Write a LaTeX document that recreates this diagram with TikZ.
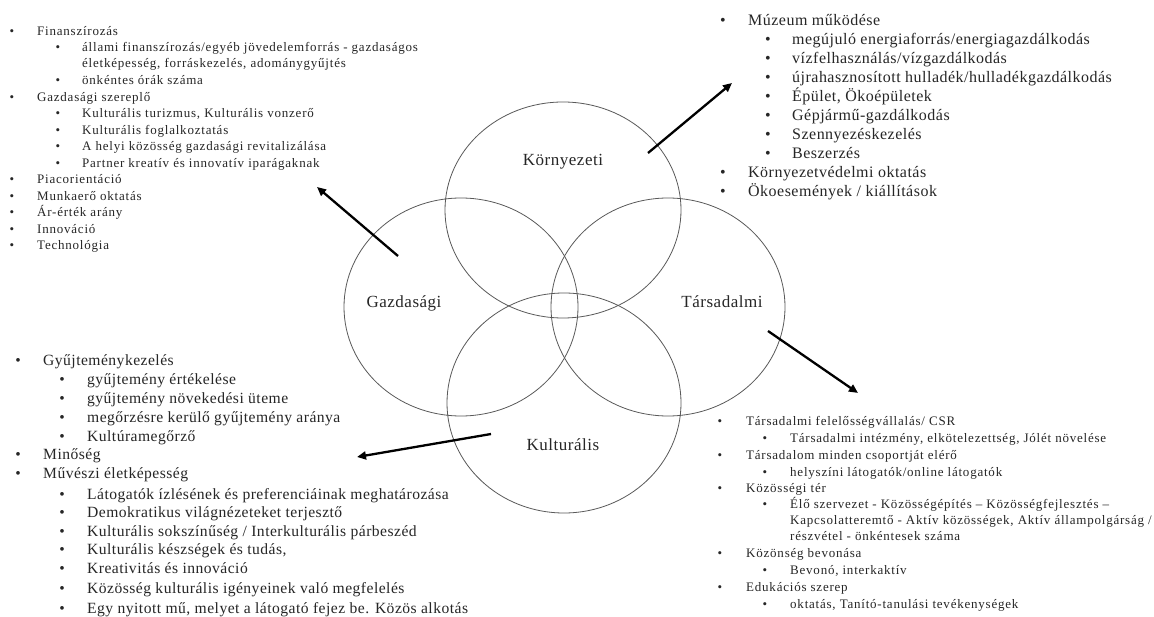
\documentclass[tikz,border=0pt]{standalone}
\usepackage{fontspec}
\setmainfont{Liberation Serif}
\newfontfamily\smallf[LetterSpace=6]{Liberation Serif}
\newfontfamily\bigf[LetterSpace=3]{Liberation Serif}
\usetikzlibrary{shapes.geometric,arrows.meta}
\newcommand{\mkitem}[6]{%
  \node[#2, bul] (#1b) at (#3,#5) {•};
  \node[#2] (#1) at (#4,#5) {#6};}
\begin{document}
\begin{tikzpicture}[x=1pt,y=-1pt,
  sm/.style={anchor=mid west, inner sep=0pt, text=black!85, font=\smallf\fontsize{13}{15}\selectfont},
  bg/.style={anchor=mid west, inner sep=0pt, text=black!85, font=\bigf\fontsize{16}{18}\selectfont},
  bgl/.style={anchor=mid west, inner sep=0pt, text=black!85, font=\bigf\fontsize{15.6}{18}\selectfont},
  bul/.style={anchor=mid},
  lab/.style={inner sep=0pt, anchor=mid, text=black!85, font=\bigf\fontsize{17}{20}\selectfont},
  ell/.style={ellipse, draw=black!65, line width=0.8pt, inner sep=0pt},
  arr/.style={line width=2.3pt, black, -{Triangle[length=9pt,width=8pt]}}]
\fill[white] (0,0) rectangle (1154,617);
\useasboundingbox (0,0) rectangle (1154,617);

% ellipses
\node[ell, minimum width=236pt, minimum height=216pt] (env) at (563,210) {};
\node[ell, minimum width=234pt, minimum height=218pt] (eco) at (461,307) {};
\node[ell, minimum width=234pt, minimum height=218pt] (soc) at (668,307) {};
\node[ell, minimum width=234pt, minimum height=220pt] (cul) at (564,403) {};

\node[lab] (envl) at (563,163) {Környezeti};
\node[lab] (ecol) at (404,305) {Gazdasági};
\node[lab] (socl) at (722,305) {Társadalmi};
\node[lab] (cull) at (563,448) {Kulturális};

% arrows
\coordinate (ecoA) at (398,256); \coordinate (ecoB) at (317,187);
\coordinate (envA) at (648,153); \coordinate (envB) at (732,83);
\coordinate (socA) at (768,331); \coordinate (socB) at (858,393);
\coordinate (culA) at (491,434); \coordinate (culB) at (357,457);
\draw[arr] (ecoA) -- (ecoB);
\draw[arr] (envA) -- (envB);
\draw[arr] (socA) -- (socB);
\draw[arr] (culA) -- (culB);

% top-left list
\mkitem{tl1}{sm}{12}{37}{33}{Finanszírozás}
\mkitem{tl2}{sm}{58}{82}{49}{állami finanszírozás/egyéb jövedelemforrás - gazdaságos}
\node[sm] (tl3) at (82,65) {életképesség, forráskezelés, adománygyűjtés};
\mkitem{tl4}{sm}{58}{82}{82}{önkéntes órák száma}
\mkitem{tl5}{sm}{12}{37}{99}{Gazdasági szereplő}
\mkitem{tl6}{sm}{58}{82}{115}{Kulturális turizmus, Kulturális vonzerő}
\mkitem{tl7}{sm}{58}{82}{132}{Kulturális foglalkoztatás}
\mkitem{tl8}{sm}{58}{82}{148}{A helyi közösség gazdasági revitalizálása}
\mkitem{tl9}{sm}{58}{82}{165}{Partner kreatív és innovatív iparágaknak}
\mkitem{tl10}{sm}{12}{37}{181}{Piacorientáció}
\mkitem{tl11}{sm}{12}{37}{198}{Munkaerő oktatás}
\mkitem{tl12}{sm}{12}{37}{214}{Ár-érték arány}
\mkitem{tl13}{sm}{12}{37}{231}{Innováció}
\mkitem{tl14}{sm}{12}{37}{247}{Technológia}

% top-right list
\mkitem{tr1}{bg}{723}{748}{23}{Múzeum működése}
\mkitem{tr2}{bg}{768}{792}{42}{megújuló energiaforrás/energiagazdálkodás}
\mkitem{tr3}{bg}{768}{792}{61}{vízfelhasználás/vízgazdálkodás}
\mkitem{tr4}{bg}{768}{792}{80}{újrahasznosított hulladék/hulladékgazdálkodás}
\mkitem{tr5}{bg}{768}{792}{99}{Épület, Ökoépületek}
\mkitem{tr6}{bg}{768}{792}{118}{Gépjármű-gazdálkodás}
\mkitem{tr7}{bg}{768}{792}{137}{Szennyezéskezelés}
\mkitem{tr8}{bg}{768}{792}{156}{Beszerzés}
\mkitem{tr9}{bg}{723}{748}{175}{Környezetvédelmi oktatás}
\mkitem{tr10}{bg}{723}{748}{194}{Ökoesemények / kiállítások}

% bottom-left list
\mkitem{bl1}{bgl}{18}{43}{363}{Gyűjteménykezelés}
\mkitem{bl2}{bgl}{62}{87}{382}{gyűjtemény értékelése}
\mkitem{bl3}{bgl}{62}{87}{401}{gyűjtemény növekedési üteme}
\mkitem{bl4}{bgl}{62}{87}{420}{megőrzésre kerülő gyűjtemény aránya}
\mkitem{bl5}{bgl}{62}{87}{439}{Kultúramegőrző}
\mkitem{bl6}{bgl}{18}{43}{457}{Minőség}
\mkitem{bl7}{bgl}{18}{43}{476}{Művészi életképesség}
\mkitem{bl8}{bgl}{62}{87}{497}{Látogatók ízlésének és preferenciáinak meghatározása}
\mkitem{bl9}{bgl}{62}{87}{515}{Demokratikus világnézeteket terjesztő}
\mkitem{bl10}{bgl}{62}{87}{534}{Kulturális sokszínűség / Interkulturális párbeszéd}
\mkitem{bl11}{bgl}{62}{87}{552}{Kulturális készségek és tudás,}
\mkitem{bl12}{bgl}{62}{87}{571}{Kreativitás és innováció}
\mkitem{bl13}{bgl}{62}{87}{591}{Közösség kulturális igényeinek való megfelelés}
\mkitem{bl14}{bgl}{62}{87}{611}{Egy nyitott mű, melyet a látogató fejez be. Közös alkotás}

% bottom-right list
\mkitem{br1}{sm}{720}{746}{423}{Társadalmi felelősségvállalás/ CSR}
\mkitem{br2}{sm}{765}{790}{440}{Társadalmi intézmény, elkötelezettség, Jólét növelése}
\mkitem{br3}{sm}{720}{746}{457}{Társadalom minden csoportját elérő}
\mkitem{br4}{sm}{765}{790}{474}{helyszíni látogatók/online látogatók}
\mkitem{br5}{sm}{720}{746}{490}{Közösségi tér}
\mkitem{br6}{sm}{765}{790}{506}{Élő szervezet - Közösségépítés – Közösségfejlesztés –}
\node[sm] (br7) at (790,522) {Kapcsolatteremtő - Aktív közösségek, Aktív állampolgárság /};
\node[sm] (br8) at (790,538) {részvétel - önkéntesek száma};
\mkitem{br9}{sm}{720}{746}{555}{Közönség bevonása}
\mkitem{br10}{sm}{765}{790}{572}{Bevonó, interkaktív}
\mkitem{br11}{sm}{720}{746}{589}{Edukációs szerep}
\mkitem{br12}{sm}{765}{790}{606}{oktatás, Tanító-tanulási tevékenységek}
\end{tikzpicture}
\end{document}
